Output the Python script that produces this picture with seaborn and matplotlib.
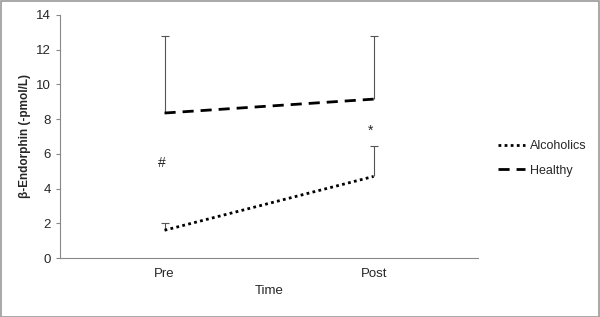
import numpy as np
import pandas as pd
import matplotlib
matplotlib.use('Agg')
import matplotlib.pyplot as plt
import seaborn as sns

# data
times = ['Pre', 'Post']
alcoholics = [1.6, 4.7]
alcoholics_err = [0.4, 1.75]
healthy = [8.35, 9.15]
healthy_err = [4.45, 3.65]
marks = ['#', '*']
mark_y = [5.5, 7.3]

df = pd.DataFrame({
    'Time': times * 2,
    'value': alcoholics + healthy,
    'group': ['Alcoholics'] * 2 + ['Healthy'] * 2,
})

sns.set_style('white')
plt.rcParams['font.family'] = ['Liberation Sans', 'DejaVu Sans']

fig = plt.figure(figsize=(6, 3.17), dpi=100)
ax = fig.add_axes([0.1, 0.186, 0.697, 0.767])

# error bars, upward only, no cap at the bottom
for vals, err in [(alcoholics, alcoholics_err), (healthy, healthy_err)]:
    eb = ax.errorbar([0, 1], vals, yerr=[[0, 0], err], fmt='none',
                     ecolor='#555555', elinewidth=0.8, capsize=3, capthick=0.8)
    eb[1][0].set_visible(False)

sns.lineplot(data=df, x='Time', y='value', style='group', color='black',
             dashes={'Alcoholics': (1, 1.2), 'Healthy': (4, 2.5)},
             linewidth=2, ax=ax)

for i, (m, y) in enumerate(zip(marks, mark_y)):
    ax.text(i - 0.015, y, m, ha='center', va='center', fontsize=10)

ax.set_xlim(-0.5, 1.5)
ax.set_ylim(0, 14)
ax.set_yticks(np.arange(0, 15, 2))
ax.set_xticks([0, 1])
ax.set_xticklabels(times)
ax.set_xlabel('Time', fontsize=9.5)
ax.set_ylabel('β-Endorphin (-pmol/L)', fontsize=8.5, fontweight='bold')
ax.tick_params(axis='both', labelsize=9.5)
ax.tick_params(axis='y', left=True, length=3, color='#888888', width=0.8)
ax.tick_params(axis='x', bottom=False)
for s in ['top', 'right']:
    ax.spines[s].set_visible(False)
for s in ['left', 'bottom']:
    ax.spines[s].set_color('#888888')
    ax.spines[s].set_linewidth(0.8)

handles, labels = ax.get_legend_handles_labels()
ax.legend(handles, labels, loc='center left', bbox_to_anchor=(1.02, 0.41),
          frameon=False, fontsize=9, handlelength=2.2, handletextpad=0.4,
          labelspacing=1.0)

fig.patches.append(plt.Rectangle((0.001, 0.001), 0.998, 0.997, transform=fig.transFigure,
                                 fill=False, edgecolor='#999999', linewidth=1.2))

fig.savefig('out.png', dpi=100)
